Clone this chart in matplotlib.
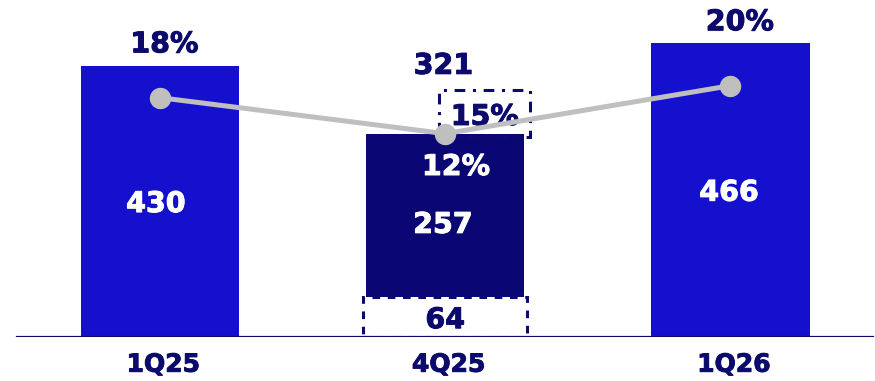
import matplotlib
matplotlib.use("Agg")
import matplotlib.pyplot as plt
from matplotlib.patches import Rectangle
import matplotlib.patheffects as pe

plt.rcParams["font.family"] = ["DejaVu Sans"]
plt.rcParams["font.weight"] = "bold"

# data
quarters = ["1Q25", "4Q25", "1Q26"]
base_vals = [430, 257, 466]          # reported amount
one_off = [0, 64, 0]                 # one-off item under the 4Q25 bar
total_4q = 321                       # 257 + 64
margin = [18, 12, 20]                # margin line, %
adj_margin = 15                      # adjusted 4Q25 margin, %

C_BRIGHT = "#1410CE"
C_DARK = "#0A0674"
C_NAVY = "#0C0B6C"
C_GRAY = "#BFBFBF"

fig = plt.figure(figsize=(8.75, 3.81), dpi=100)
ax = fig.add_axes([0, 44 / 381, 1, 337 / 381])
ax.set_xlim(-0.5605, 2.5065)
ax.set_ylim(0, 534)
ax.axis("off")

x = list(range(len(quarters)))
w = 0.555
colors = [C_BRIGHT, C_DARK, C_BRIGHT]
ax.bar(x, base_vals, width=w, bottom=one_off, color=colors, zorder=2)

# dashed box for the one-off part below the 4Q25 bar
ax.add_patch(Rectangle((1 - 0.2865, 0), 0.573, one_off[1], fill=False,
                       ec=C_NAVY, lw=2.2, ls=(0, (2.5, 2.5)), zorder=1))
# dash-dot box round the adjusted margin
ax.add_patch(Rectangle((0.979, 317), 0.319, 74.4, fill=False,
                       ec=C_NAVY, lw=2.2, ls=(0, (3.5, 2.5, 1, 2.5)), zorder=5))

# baseline
ax.axhline(0, xmin=17 / 875, xmax=873 / 875, color=C_NAVY, lw=1.6, zorder=3)

# margin line on its own scale
ax2 = ax.twinx()
ax2.set_ylim(-21.9, 34.28)
ax2.axis("off")
ax2.plot(x, margin, color=C_GRAY, lw=3.6, marker="o", ms=14.4,
         mfc=C_GRAY, mec=C_GRAY, zorder=4)

fs = 20.5


def label(xp, yp, s, color, size=fs):
    t = ax.text(xp, yp, s, ha="center", va="baseline", fontsize=size,
                color=color, zorder=6, clip_on=False)
    t.set_path_effects([pe.withStroke(linewidth=0.7, foreground=color)])
    return t


# margin labels above the outer bars
label(0.016, base_vals[0] + 21, f"{margin[0]}%", C_NAVY)
label(2.033, base_vals[2] + 20, f"{margin[2]}%", C_NAVY)
# bar values
label(-0.014, 198, f"{base_vals[0]}", "white")
label(1.995, base_vals[2] / 2 - 17, f"{base_vals[2]}", "white")
label(0.992, 165, f"{base_vals[1]}", "white")
label(1.038, 256.7, f"{margin[1]}%", "white")
label(1.0, 14, f"{one_off[1]}", C_NAVY)
label(0.994, total_4q + 96, f"{total_4q}", C_NAVY)
label(1.139, 336, f"{adj_margin}%", C_NAVY)

# category labels
for xi, q in zip(x, quarters):
    label(xi + 0.012, -55, q, C_NAVY, size=18)

fig.savefig("out.png", dpi=100)
